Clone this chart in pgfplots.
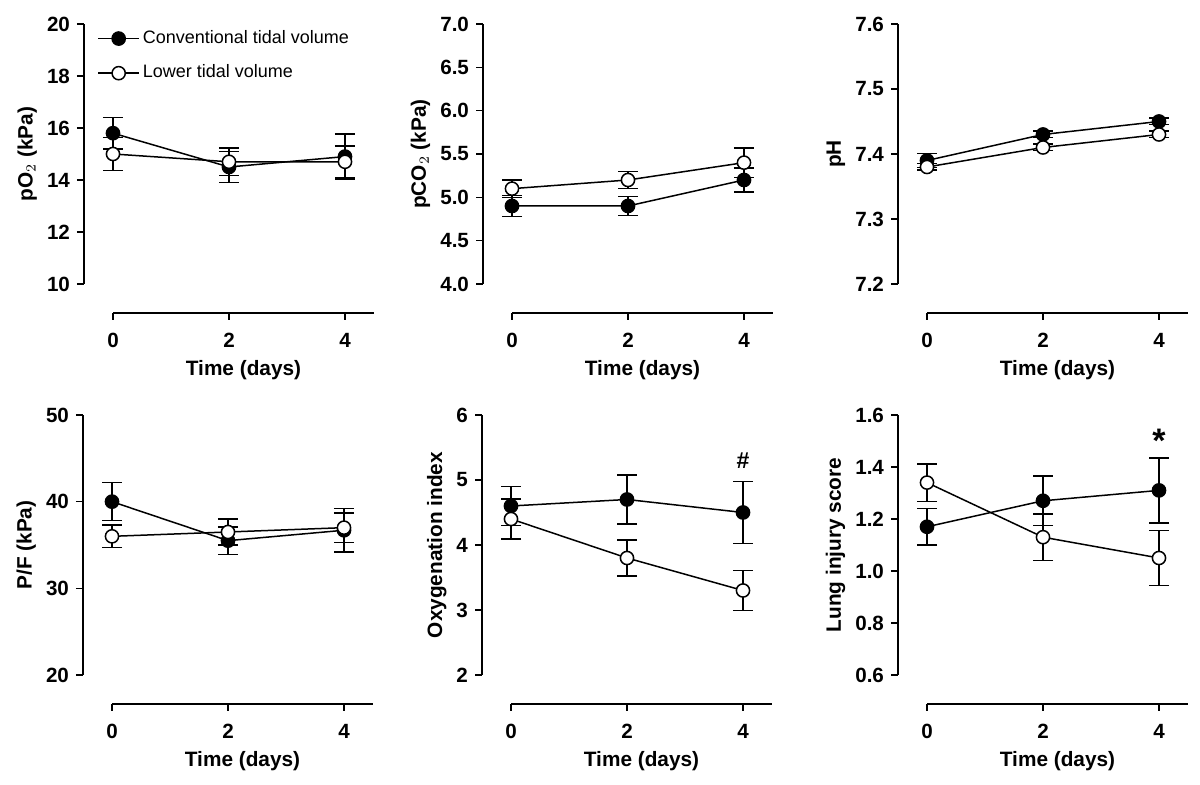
\documentclass[border=0pt]{standalone}
\usepackage{fontspec}
\setmainfont{Liberation Sans}
\usepackage{pgfplots}
\pgfplotsset{compat=1.18}
\pgfplotsset{
 panel/.style={
  scale only axis, width=145pt, height=144.5pt,
  xmin=-0.5, xmax=4.5, xtick={0,2,4},
  axis x line*=bottom, axis y line*=left,
  axis line style={draw=none},
  tick align=outside, major tick length=3.5pt,
  every tick/.style={black, line width=0.75pt},
  clip=false,
  ticklabel style={font=\bfseries\fontsize{10.3}{12}\selectfont},
  /pgf/number format/assume math mode=true,
  xlabel={Time (days)},
  every axis x label/.style={at={(axis description cs:0.55,0)}, anchor=north, yshift=-20pt,
     font=\bfseries\fontsize{10.4}{12}\selectfont},
  every axis y label/.style={at={(ticklabel cs:0.55)}, rotate=90, anchor=near ticklabel,
     inner sep=1.5pt, font=\bfseries\fontsize{10.4}{12}\selectfont},
  xticklabel style={yshift=-3pt},
  anchor=south west,
 },
 conv/.style={black, line width=0.75pt, mark=*, mark size=3.3pt, mark options={fill=black, solid},
   error bars/.cd, y dir=both, y explicit, error bar style={line width=0.75pt},
   error mark options={rotate=90, mark size=5pt, line width=0.75pt}},
 lowr/.style={black, line width=0.75pt, mark=*, mark size=3.3pt, mark options={fill=white, solid},
   error bars/.cd, y dir=both, y explicit, error bar style={line width=0.75pt},
   error mark options={rotate=90, mark size=5pt, line width=0.75pt}},
}
\newcommand{\axlines}{%
 \draw[line width=0.75pt] (rel axis cs:0,0.10035) -- (rel axis cs:0,1);
 \draw[line width=0.75pt] (rel axis cs:0.1,0) -- (rel axis cs:1,0);}
\begin{document}
\begin{tikzpicture}
\path[use as bounding box] (0,0) rectangle (600pt,392.5pt);
% Panel 1: pO2
\begin{axis}[panel, at={(42pt,236pt)}, ymin=8.8846, ymax=20, ytick={10,12,...,20},
  ylabel={pO$_2$ (kPa)},
  legend style={draw=none, fill=none, at={(rel axis cs:0.045,0.99)}, anchor=north west,
    font=\fontsize{9}{10.8}\selectfont, row sep=6pt, inner sep=0pt,
    nodes={inner sep=1.5pt, text height=6.5pt, text depth=1.8pt}},
  legend cell align=left,
  legend image code/.code={\draw[mark repeat=2,mark phase=2] plot coordinates {(0cm,0cm)(0.36cm,0cm)(0.72cm,0cm)};}]
\addplot[conv] coordinates {(0,15.8) +- (0,0.61) (2,14.5) +- (0,0.6) (4,14.9) +- (0,0.87)};
\addplot[lowr] coordinates {(0,15.0) +- (0,0.63) (2,14.7) +- (0,0.53) (4,14.7) +- (0,0.6)};
\legend{Conventional tidal volume, Lower tidal volume}
\axlines
\end{axis}
% Panel 2: pCO2
\begin{axis}[panel, at={(241.5pt,236pt)}, ymin=3.6654, ymax=7, ytick={4,4.5,...,7},
  yticklabel style={/pgf/number format/.cd, fixed, fixed zerofill, precision=1},
  ylabel={pCO$_2$ (kPa)}]
\addplot[conv] coordinates {(0,4.9) +- (0,0.12) (2,4.9) +- (0,0.11) (4,5.2) +- (0,0.14)};
\addplot[lowr] coordinates {(0,5.1) +- (0,0.1) (2,5.2) +- (0,0.1) (4,5.4) +- (0,0.17)};
\axlines
\end{axis}
% Panel 3: pH
\begin{axis}[panel, at={(449pt,236pt)}, ymin=7.15538, ymax=7.6, ytick={7.2,7.3,7.4,7.5,7.6},
  yticklabel style={/pgf/number format/.cd, fixed, fixed zerofill, precision=1},
  ylabel={pH}]
\addplot[conv] coordinates {(0,7.39) +- (0,0.011) (2,7.43) +- (0,0.005) (4,7.45) +- (0,0.005)};
\addplot[lowr] coordinates {(0,7.38) +- (0,0.005) (2,7.41) +- (0,0.005) (4,7.43) +- (0,0.005)};
\axlines
\end{axis}
% Panel 4: P/F
\begin{axis}[panel, at={(41.5pt,40.5pt)}, ymin=16.6538, ymax=50, ytick={20,30,40,50},
  ylabel={P/F (kPa)}]
\addplot[conv] coordinates {(0,40.0) +- (0,2.2) (2,35.5) +- (0,1.6) (4,36.7) +- (0,2.5)};
\addplot[lowr] coordinates {(0,36.0) +- (0,1.3) (2,36.5) +- (0,1.5) (4,37.0) +- (0,1.7)};
\axlines
\end{axis}
% Panel 5: Oxygenation index
\begin{axis}[panel, at={(241pt,40.5pt)}, ymin=1.5538, ymax=6, ytick={2,3,4,5,6},
  ylabel={Oxygenation index}]
\addplot[conv] coordinates {(0,4.6) +- (0,0.3) (2,4.7) +- (0,0.38) (4,4.5) +- (0,0.48)};
\addplot[lowr] coordinates {(0,4.4) +- (0,0.31) (2,3.8) +- (0,0.28) (4,3.3) +- (0,0.31)};
\node[font=\bfseries\fontsize{11.5}{12}\selectfont] at (axis cs:4,5.3) {\#};
\axlines
\end{axis}
% Panel 6: Lung injury score
\begin{axis}[panel, at={(449pt,40.5pt)}, ymin=0.48846, ymax=1.6, ytick={0.6,0.8,...,1.6},
  yticklabel style={/pgf/number format/.cd, fixed, fixed zerofill, precision=1},
  ylabel={Lung injury score}]
\addplot[conv] coordinates {(0,1.17) +- (0,0.07) (2,1.27) +- (0,0.095) (4,1.31) +- (0,0.125)};
\addplot[lowr] coordinates {(0,1.34) +- (0,0.072) (2,1.13) +- (0,0.09) (4,1.05) +- (0,0.105)};
\node[font=\bfseries\fontsize{17}{17}\selectfont] at (axis cs:4,1.5) {*};
\axlines
\end{axis}
\end{tikzpicture}
\end{document}
